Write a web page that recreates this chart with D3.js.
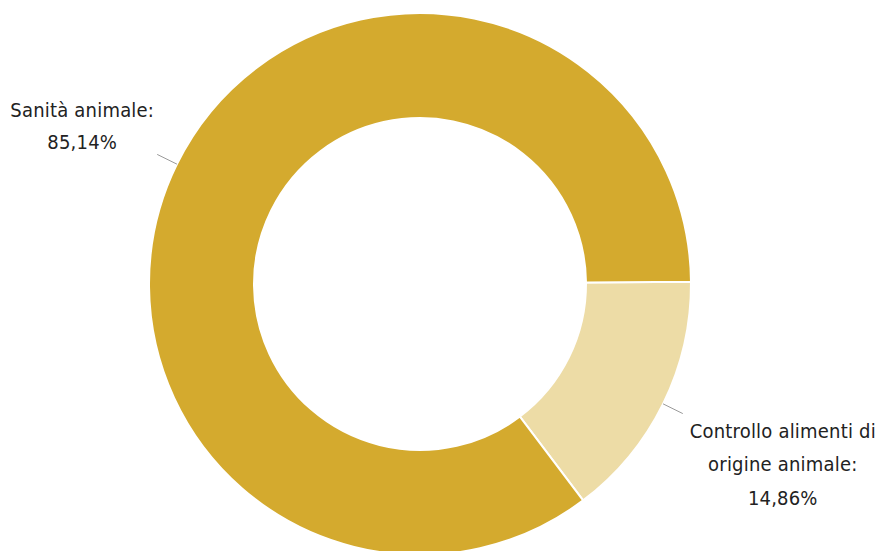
<!DOCTYPE html>
<html><head><meta charset="utf-8">
<script src="https://cdn.jsdelivr.net/npm/d3@7"></script>
<style>
html,body{margin:0;padding:0;background:#fff;}
svg{display:block;}
</style></head>
<body>
<svg id="chart" width="884" height="551"></svg>
<script>
const categories = ["Controllo alimenti di origine animale", "Sanità animale"];
const values = [14.86, 85.14];
const labelLines = [["Controllo alimenti di", "origine animale:", "14,86%"], ["Sanità animale:", "85,14%"]];
const colors = ["#EDDCA6", "#D4AA2E"];

const svg = d3.select("#chart");
const cx = 420, cy = 284, R = 271, r = 166;
const g = svg.append("g").attr("transform", `translate(${cx},${cy})`);

const start = Math.PI / 2 - 0.5 * Math.PI / 180;
const pie = d3.pie().sort(null).value(d => d).startAngle(start).endAngle(start + 2 * Math.PI);
const arc = d3.arc().innerRadius(r).outerRadius(R);

const arcs = pie(values);
g.selectAll("path.slice").data(arcs).join("path")
  .attr("class", "slice")
  .attr("d", arc)
  .attr("fill", (d, i) => colors[i])
  .attr("stroke", "#fff")
  .attr("stroke-width", 2);

const p = (a, rad) => [Math.sin(a) * rad, -Math.cos(a) * rad];

arcs.forEach((d, i) => {
  const m = (d.startAngle + d.endAngle) / 2;
  const a0 = p(m, R), a1 = p(m, R + 22);
  g.append("line").attr("x1", a0[0]).attr("y1", a0[1]).attr("x2", a1[0]).attr("y2", a1[1])
    .attr("stroke", "#9a9a9a").attr("stroke-width", 1);
  const right = a1[0] > 0;
  const lines = labelLines[i];
  const lh = right ? 33.5 : 32;
  const tx = right ? a1[0] + 100 : a1[0] - 75;
  const ty0 = right ? a1[1] + 24 : a1[1] - 37;
  const t = g.append("text")
    .attr("text-anchor", "middle")
    .style("font-family", "'DejaVu Sans Condensed','DejaVu Sans',sans-serif")
    .style("font-stretch", "condensed")
    .style("font-size", "20px")
    .style("letter-spacing", "0.2px")
    .attr("fill", "#222");
  lines.forEach((s, j) => {
    t.append("tspan").attr("x", tx).attr("y", ty0 + j * lh).text(s);
  });
});
</script>
</body></html>
